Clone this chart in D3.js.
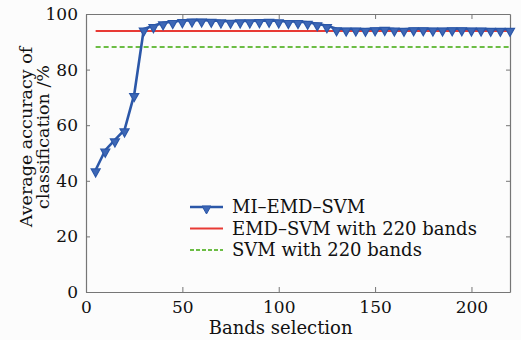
<!DOCTYPE html>
<html>
<head>
<meta charset="utf-8">
<script src="https://cdn.jsdelivr.net/npm/d3@7"></script>
<style>
  html, body { margin: 0; padding: 0; background: #fcfcfc; }
  svg text { font-family: "DejaVu Serif", serif; fill: #111; }
</style>
</head>
<body>
<div id="chart"></div>
<script>
// band counts and accuracies
var bands = [5, 10, 15, 20, 25, 30, 35, 40, 45, 50, 55, 60, 65, 70, 75, 80, 85, 90, 95, 100,
  105, 110, 115, 120, 125, 130, 135, 140, 145, 150, 155, 160, 165, 170, 175, 180, 185, 190,
  195, 200, 205, 210, 215, 220];
var miEmdSvm = [43.9, 51, 54.7, 58.3, 71, 94.6, 95.8, 96.8, 97.3, 97.6, 97.8, 97.8, 97.7, 97.5,
  97.4, 97.5, 97.5, 97.6, 97.7, 97.5, 97.3, 97.3, 97.0, 96.5, 95.8, 94.7, 94.6, 94.6, 94.5,
  94.7, 94.8, 94.6, 94.5, 94.7, 94.7, 94.6, 94.6, 94.7, 94.7, 94.6, 94.6, 94.5, 94.5, 94.5];
var emdSvmAll = 93.9;
var svmAll = 88.1;
var xTicks = [0, 50, 100, 150, 200];
var yTicks = [0, 20, 40, 60, 80, 100];
var legendLabels = ["MI\u2013EMD\u2013SVM", "EMD\u2013SVM with 220 bands", "SVM with 220 bands"];

var W = 521, H = 340;
var m = {top: 14, right: 11, bottom: 48, left: 86};
var iw = W - m.left - m.right, ih = H - m.top - m.bottom;
var blue = "#2b57a8", red = "#e83a35", green = "#6cbd45", axisCol = "#767676";

var svg = d3.select("#chart").append("svg")
  .attr("width", W).attr("height", H);
var g = svg.append("g").attr("transform", "translate(" + m.left + "," + m.top + ")");

var x = d3.scaleLinear().domain([0, 220]).range([0, iw]);
var y = d3.scaleLinear().domain([0, 100]).range([ih, 0]);

// frame with inward ticks on all four sides
function styleAxis(sel){
  sel.select(".domain").attr("stroke", axisCol).attr("stroke-width", 1.2);
  sel.selectAll(".tick line").attr("stroke", axisCol);
  sel.selectAll(".tick text").style("font-size", "17px").attr("fill", "#111");
}
g.append("g").attr("transform", "translate(0," + ih + ")")
  .call(d3.axisBottom(x).tickValues(xTicks).tickSizeInner(-5).tickSizeOuter(0).tickPadding(9))
  .call(styleAxis);
g.append("g")
  .call(d3.axisTop(x).tickValues(xTicks).tickSizeInner(-5).tickSizeOuter(0).tickFormat(""))
  .call(styleAxis);
g.append("g")
  .call(d3.axisLeft(y).tickValues(yTicks).tickSizeInner(-4).tickSizeOuter(0).tickPadding(8))
  .call(styleAxis);
g.append("g").attr("transform", "translate(" + iw + ",0)")
  .call(d3.axisRight(y).tickValues(yTicks).tickSizeInner(-4).tickSizeOuter(0).tickFormat(""))
  .call(styleAxis);

// reference lines
var refX = [bands[0], bands[bands.length - 1]];
g.append("line")
  .attr("x1", x(refX[0])).attr("x2", x(refX[1]))
  .attr("y1", y(emdSvmAll)).attr("y2", y(emdSvmAll))
  .attr("stroke", red).attr("stroke-width", 2);
g.append("line")
  .attr("x1", x(refX[0])).attr("x2", x(refX[1]))
  .attr("y1", y(svmAll)).attr("y2", y(svmAll))
  .attr("stroke", green).attr("stroke-width", 2).attr("stroke-dasharray", "5,3");

// MI-EMD-SVM curve
var pts = bands.map(function(b, i){ return [b, miEmdSvm[i]]; });
g.append("path").datum(pts)
  .attr("fill", "none").attr("stroke", blue).attr("stroke-width", 2.6)
  .attr("d", d3.line().x(function(d){ return x(d[0]); }).y(function(d){ return y(d[1]); }));

function tri(cx, cy){
  return "M" + (cx - 4.5) + "," + (cy - 1) + "L" + (cx + 4.5) + "," + (cy - 1) + "L" + cx + "," + (cy + 7) + "Z";
}
g.selectAll(".mk").data(pts).enter().append("path")
  .attr("class", "mk")
  .attr("d", function(d){ return tri(x(d[0]), y(d[1])); })
  .attr("fill", "#3d67b6").attr("stroke", blue).attr("stroke-width", 1.2);

// legend
var lg = svg.append("g").attr("transform", "translate(190,207)");
var rows = [
  {label: legendLabels[0], color: blue, dash: null, w: 2.6, mark: true},
  {label: legendLabels[1], color: red, dash: null, w: 2, mark: false},
  {label: legendLabels[2], color: green, dash: "4,2", w: 2, mark: false}
];
rows.forEach(function(r, i){
  var ry = i * 21.5;
  lg.append("line").attr("x1", 0).attr("x2", 33).attr("y1", ry).attr("y2", ry)
    .attr("stroke", r.color).attr("stroke-width", r.w).attr("stroke-dasharray", r.dash);
  if (r.mark) lg.append("path").attr("d", tri(16.5, ry)).attr("fill", "#3d67b6").attr("stroke", blue);
  lg.append("text").attr("x", 42).attr("y", ry + 6).style("font-size", "18px").text(r.label);
});

// axis titles
svg.append("text").attr("x", m.left + x(101)).attr("y", 334)
  .attr("text-anchor", "middle").style("font-size", "18px").text("Bands selection");
var yl = svg.append("text").attr("transform", "translate(0,137) rotate(-90)")
  .attr("text-anchor", "middle").style("font-size", "17.5px");
yl.append("tspan").attr("x", 0).attr("y", 32).text("Average accuracy of");
yl.append("tspan").attr("x", 0).attr("y", 49).text("classification /%");
</script>
</body>
</html>
